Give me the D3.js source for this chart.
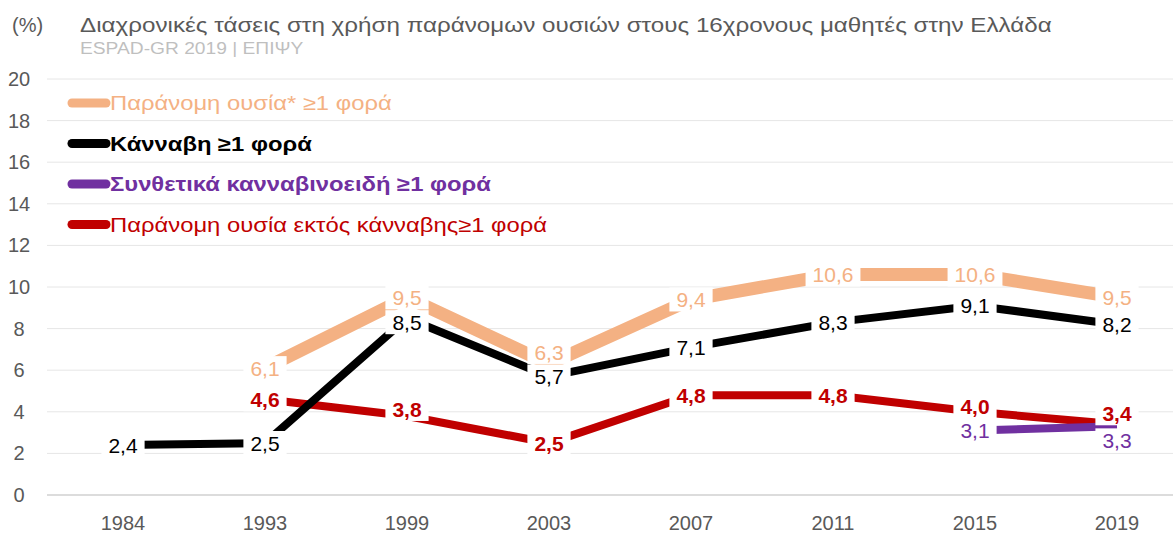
<!DOCTYPE html>
<html>
<head>
<meta charset="utf-8">
<script src="https://cdn.jsdelivr.net/npm/d3@7"></script>
<style>
  body { margin: 0; background: #fff; }
  svg { display: block; font-family: "Liberation Sans", Arial, sans-serif; }
</style>
</head>
<body>
<script>
// data
var years = ["1984", "1993", "1999", "2003", "2007", "2011", "2015", "2019"];
var anyDrug    = [null, 6.1, 9.5, 6.3, 9.4, 10.6, 10.6, 9.5];
var cannabis   = [2.4, 2.5, 8.5, 5.7, 7.1, 8.3, 9.1, 8.2];
var synthetic  = [null, null, null, null, null, null, 3.1, 3.3];
var nonCannabis = [null, 4.6, 3.8, 2.5, 4.8, 4.8, 4.0, 3.4];
var yTicks = [0, 2, 4, 6, 8, 10, 12, 14, 16, 18, 20];

var title = "Διαχρονικές τάσεις στη χρήση παράνομων ουσιών στους 16χρονους μαθητές στην Ελλάδα";
var subtitle = "ESPAD-GR 2019 | ΕΠΙΨΥ";

// series styling (order = legend order)
var series = [
  {name: "Παράνομη ουσία* ≥1 φορά", values: anyDrug, color: "#F4B183", width: 13, bold: false, labelColor: "#F4B183"},
  {name: "Κάνναβη ≥1 φορά", values: cannabis, color: "#000000", width: 8, bold: true, labelColor: "#000000", labelBold: false},
  {name: "Συνθετικά κανναβινοειδή ≥1 φορά", values: synthetic, color: "#7030A0", width: 8, bold: true, labelColor: "#7030A0", labelBold: false},
  {name: "Παράνομη ουσία εκτός κάνναβης≥1 φορά", values: nonCannabis, color: "#C00000", width: 8, bold: false, labelColor: "#C00000", labelBold: true}
];

// small nudges (px) the original uses to keep labels from colliding
var labelNudge = {"0:3": -12, "1:2": 4, "2:7": 14, "3:2": -7, "3:6": -5, "3:7": -11};

var W = 1173, H = 534;
var svg = d3.select("body").append("svg").attr("width", W).attr("height", H);

var x = d3.scalePoint().domain(years).range([123, 1117]);
var y = d3.scaleLinear().domain([0, 20]).range([495, 79]);

// the original's greek text renders a bit wider than Liberation Sans
function widen(sel, k) {
  sel.each(function() {
    var len = this.getComputedTextLength();
    d3.select(this).attr("textLength", len * k).attr("lengthAdjust", "spacingAndGlyphs");
  });
}

// title block
svg.append("text").attr("x", 12).attr("y", 32)
  .attr("font-size", 20).attr("fill", "#595959").text("(%)");
svg.append("text").attr("x", 80).attr("y", 32)
  .attr("font-size", 20).attr("fill", "#595959").text(title)
  .call(widen, 1.21);
svg.append("text").attr("x", 80).attr("y", 54)
  .attr("font-size", 16).attr("fill", "#BFBFBF").text(subtitle)
  .call(widen, 1.2);

// gridlines
svg.append("g").selectAll("line")
  .data(yTicks)
  .enter().append("line")
    .attr("x1", 47).attr("x2", W)
    .attr("y1", function(d) { return y(d); })
    .attr("y2", function(d) { return y(d); })
    .attr("stroke", function(d) { return d === 0 ? "#D0D0D0" : "#E6E6E6"; })
    .attr("stroke-width", d => d === 0 ? 1.5 : 1);

// y axis labels
svg.append("g").selectAll("text")
  .data(yTicks)
  .enter().append("text")
    .attr("x", 19).attr("y", function(d) { return y(d); })
    .attr("dy", "0.35em")
    .attr("text-anchor", "middle")
    .attr("font-size", 20).attr("fill", "#595959")
    .text(function(d) { return d; });

// x axis labels
svg.append("g").selectAll("text")
  .data(years)
  .enter().append("text")
    .attr("x", function(d) { return x(d); }).attr("y", 530)
    .attr("text-anchor", "middle")
    .attr("font-size", 20).attr("fill", "#595959")
    .text(function(d) { return d; });

// lines
var line = d3.line()
  .defined(function(d) { return d.v !== null; })
  .x(function(d) { return x(d.year); })
  .y(function(d) { return y(d.v); });

var drawOrder = [3, 2, 1, 0];
drawOrder.forEach(function(si) {
  var s = series[si];
  var pts = years.map(function(yr, i) { return {year: yr, v: s.values[i]}; });
  svg.append("path")
    .datum(pts)
    .attr("d", line)
    .attr("fill", "none")
    .attr("stroke", s.color)
    .attr("stroke-width", s.width)
    .attr("stroke-linejoin", "miter");
});

// data labels with white boxes
var fmt = function(v) { return d3.format(".1f")(v).replace(".", ","); };
var labelOrder = [0, 3, 2, 1];
labelOrder.forEach(function(si) {
  var s = series[si];
  s.values.forEach(function(v, i) {
    if (v === null) return;
    var cy = y(v) + (labelNudge[si + ":" + i] || 0);
    var g = svg.append("g").attr("transform", "translate(" + x(years[i]) + "," + cy + ")");
    var t = g.append("text")
      .attr("text-anchor", "middle")
      .attr("dy", "0.36em")
      .attr("font-size", 21)
      .attr("font-weight", s.labelBold ? "bold" : "normal")
      .attr("fill", s.labelColor)
      .text(fmt(v));
    var bw = t.node().getComputedTextLength() + 14;
    g.insert("rect", "text")
      .attr("x", -bw / 2).attr("y", -12)
      .attr("width", bw).attr("height", 24)
      .attr("fill", "#fff");
  });
});

// legend
var legend = svg.append("g").selectAll("g")
  .data(series)
  .enter().append("g")
    .attr("transform", function(d, i) { return "translate(0," + (103 + i * 40.5) + ")"; });
legend.append("line")
  .attr("x1", 72).attr("x2", 106)
  .attr("stroke", function(d) { return d.color; })
  .attr("stroke-width", 9)
  .attr("stroke-linecap", "round");
legend.append("text")
  .attr("x", 110).attr("dy", "0.35em")
  .attr("font-size", 20)
  .attr("font-weight", function(d) { return d.bold ? "bold" : "normal"; })
  .attr("fill", function(d) { return d.color; })
  .text(function(d) { return d.name; })
  .call(widen, 1.19);
</script>
</body>
</html>
